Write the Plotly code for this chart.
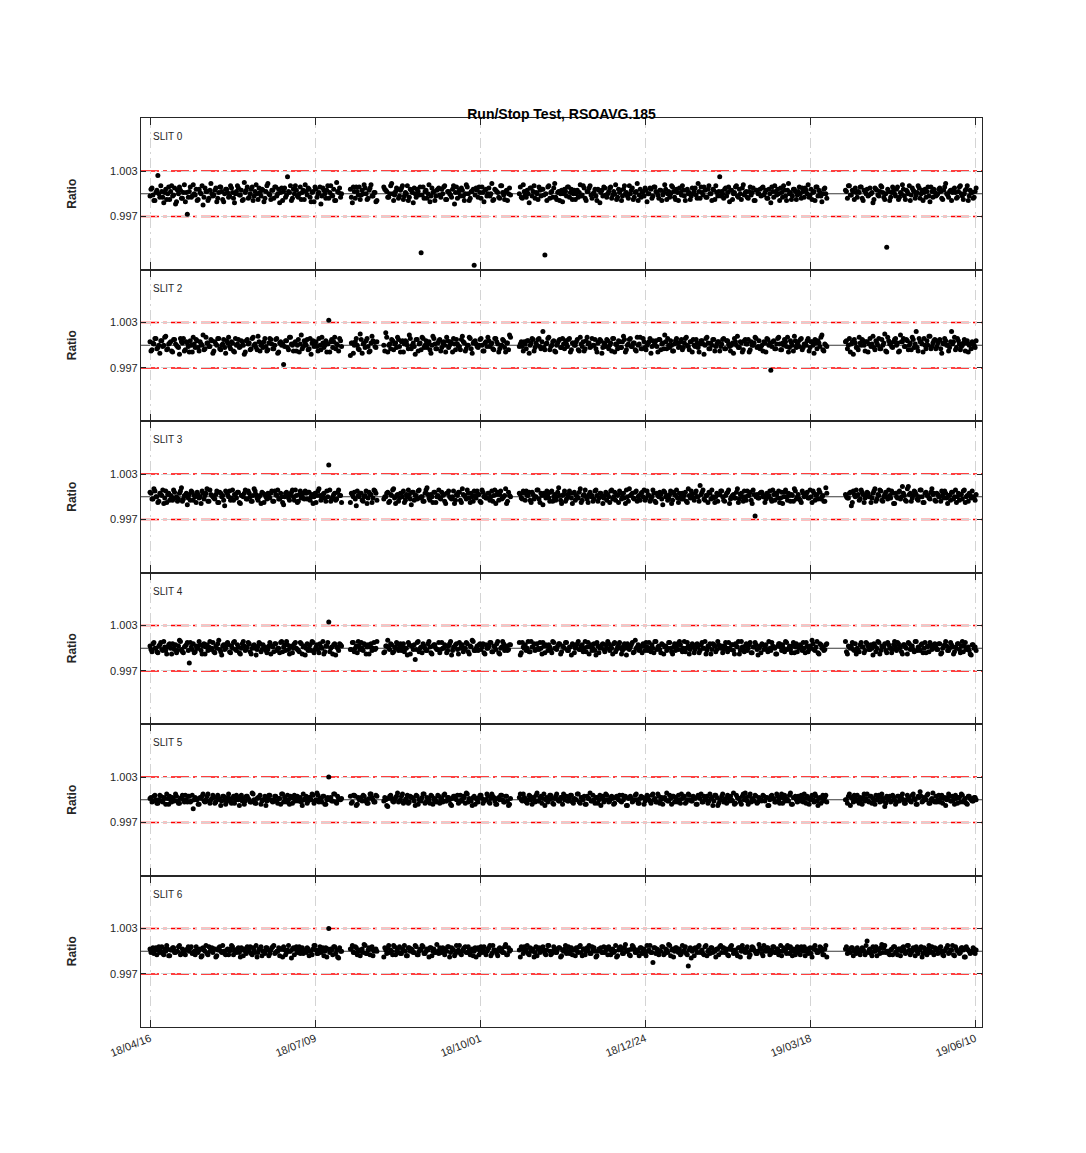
import pandas as pd
import plotly.graph_objects as go
from plotly.subplots import make_subplots

# ---------------- data ----------------
START_DATE = "2018-04-16"
END_DATE = "2019-06-10"
# days without measurements (inclusive ranges)
GAPS = [("2018-07-23", "2018-07-26"), ("2018-08-10", "2018-08-12"),
        ("2018-10-17", "2018-10-20"), ("2019-03-27", "2019-04-04")]

TICK_DATES = ["2018-04-16", "2018-07-09", "2018-10-01", "2018-12-24", "2019-03-18", "2019-06-10"]
TICK_LABELS = ["18/04/16", "18/07/09", "18/10/01", "18/12/24", "19/03/18", "19/06/10"]
Y_TICKS = [0.997, 1.003]
Y_TICK_LABELS = ["0.997", "1.003"]
SLIT_NAMES = ["SLIT 0", "SLIT 2", "SLIT 3", "SLIT 4", "SLIT 5", "SLIT 6"]

UNIT = 0.00015  # deviations below are ratio-1 in units of 0.00015

# first measurement of each day
slit0_a = [
    -2, 5, -6, 1, 16, -3, 2, -8, 4, 0, -5, 7, -1, -9, 3, 6, -4, 1, -7, -18,
    2, -3, 8, -1, -6, 4, 0, -10, 5, 2, -4, 9, -2, 3, -7, 1, 6, -5, 0, 4,
    -3, 7, 1, -8, 2, 5, -1, -6, 10, 3, -4, 0, 6, -2, 8, -5, 1, 4, -7, 2,
    9, -1, 3, -4, 6, 0, -8, 5, 2, -3, 15, 1, -6, 4, 7, -2, 0, -5, 3, 8,
    -1, 4, -7, 2, 6, -3, 1, -9, 5, 0, 3, -4, 7, -2, -6, 10, 1, -3, 4, -8,
    2, 6, -1, -5, 3, 8, 0, -4, 5, -2, 1, -7, 6, 3, -3, 0, 9, -6, 2, 4,
    -2, 5, -5, 1, 7, -3, 3, -8, 0, 4, -1, -52, 6, 2, -4, 8, -2, 1, -6, 3,
    5, -3, 0, 7, -5, 2, -1, 4, -9, 6, 1, -2, 3, -6, 8, 0, -4, 2, -63, 5,
    -3, 1, 6, -7, 4, 0, -2, 9, -5, 3, 1, -4, 7, -1, 2, -6, 5, 0, -3, 8,
    -1, 3, -8, 5, 2, -4, 0, 6, -2, 4, -54, -6, 7, 1, -3, 9, -5, 2, 0, -7,
    4, -2, 6, 1, -5, 3, 0, -3, 8, -1, 5, -6, 2, 7, -4, 1, -2, 4, -8, 3,
    6, -1, 0, 5, -4, 2, 8, -3, 1, -6, 4, 0, -2, 7, 3, -5, 1, 9, -1, -3,
    2, 5, -7, 0, 4, -2, 6, 1, -4, 3, -1, 8, -5, 2, 0, 6, -3, 4, -6, 1,
    7, -2, 3, 0, -5, 5, 2, -1, 9, -4, 1, 6, -3, 4, 0, -6, 3, 7, -2, 15,
    2, -4, 5, 1, -7, 3, 0, 6, -2, 4, -5, 8, 1, -3, 2, -1, 5, -6, 3, 0,
    -2, 6, 1, -4, 4, -8, 2, 7, -1, 0, 5, -3, 3, -6, 9, 1, -2, 4, -5, 2,
    0, 5, -3, 3, 8, -1, -5, 2, 6, -2, 1, -7, 4, 0, 3, -4, 7, -1, 2, 5,
    -3, 1, 6, -6, 2, 4, -1, 0, -8, 5, 3, -2, 7, 1, -5, -47, 2, -3, 6, 0,
    4, -5, 1, 8, -2, 3, 0, -6, 5, 2, -1, 7, -4, 3, 1, -3, 6, -7, 2, 4,
    -2, 0, 5, -4, 3, 9, -1, 2, -6, 4, 1, -3, 6, 0, -5, 3, 7, -2, 1, -4,
    2,
]
slit2_a = [
    3, -4, 1, 6, -2, -7, 4, 0, 8, -3, 2, -5, 5, 1, -1, -8, 3, 6, -4, 2,
    -6, 0, 7, -2, 4, -5, 1, 9, -3, 2, -1, 5, -7, 3, 0, 6, -4, 1, -2, 4,
    7, -3, 2, -6, 0, 5, -1, 3, -8, 4, 1, -4, 6, 0, -2, 8, -5, 2, 3, -1,
    -4, 6, 1, -3, 5, -7, 2, 0, -17, 4, -2, 7, 1, -5, 3, 0, -6, 9, -1, 2,
    5, -3, -8, 4, 1, -1, 6, -4, 2, 0, -6, 22, 3, -2, 7, 1, -5, 4, -9, 2,
    0, 6, -3, 10, -7, 2, 4, -1, -5, 8, 3, -2, 0, 11, -6, 1, 5, -4, 2, 7,
    -1, 3, -6, 4, 0, 9, -3, 2, -8, 5, 1, -4, 6, 0, -2, 3, -7, 8, 1, -3,
    4, -5, 2, 0, 7, -2, 3, -6, 1, 5, -1, -4, 8, 2, -3, 0, 6, -7, 3, 1,
    -2, 5, 0, -5, 3, 7, -1, 2, -4, 6, 1, -3, 0, 4, -6, 2, 9, -1, 3, -5,
    1, 4, -7, 2, 5, -2, 0, 6, -3, 12, -4, 2, 7, -1, 3, -5, 0, 4, -2, 6,
    -3, 1, 5, -6, 2, 0, 3, -4, 7, -1, -5, 4, 1, -2, 6, 0, -3, 2, 5, -7,
    2, -1, 4, 0, -5, 6, 1, -3, 3, -2, 8, -6, 0, 5, -1, 2, -4, 7, 1, -3,
    6, -2, 0, 3, -7, 4, 1, -1, 5, -4, 2, 9, -3, 0, 4, -5, 1, 6, -2, 3,
    -4, 2, 7, -1, 3, -6, 0, 5, -2, 1, 4, -8, 6, 2, -3, 0, 5, -1, 3, -5,
    1, 6, -3, 4, -1, 0, -7, 3, 8, -2, 2, -4, 5, 1, -6, 3, 0, 7, -2, 4,
    -1, -5, 2, 6, 0, -22, 3, -3, 1, 7, -4, 2, 5, -1, -6, 4, 0, 8, -2, 3,
    5, -4, 1, 0, 6, -2, 3, -7, 2, 4, -1, 9, -5, 0, 3, -3, 6, 1, -8, 2,
    -2, 7, 0, 4, -5, 3, 1, -1, 8, -4, 2, 6, -3, 0, 10, -6, 4, 2, -2, 5,
    0, -6, 9, 3, -1, 5, -4, 2, 7, -2, 12, -5, 3, 1, 6, -3, 0, 8, -1, 4,
    -3, 2, 5, -7, 1, 4, 0, -2, 12, 3, -4, 6, 1, -1, 2, -5, 4, 0, -3, 1,
    -2,
]
slit3_a = [
    4, -2, 7, 0, -5, 3, 1, -6, 5, 2, -3, 0, 6, -1, -4, 3, 8, -2, 1, -7,
    2, 5, -3, 0, 4, -1, -6, 3, 1, 7, -4, 2, 0, -2, 5, -5, 3, 1, -8, 4,
    0, -3, 6, 2, -1, 4, -6, 1, 3, -2, 5, 0, -4, 7, 2, -3, 1, 4, -5, 0,
    3, -1, 5, -4, 2, 6, -2, 0, -7, 3, 1, -3, 4, 0, 6, -5, 2, -1, 3, 5,
    -2, 4, 0, -6, 3, 1, 7, -3, 2, -1, 5, 28, -4, 0, 3, -2, 6, 1, -5, 2,
    4, -8, 1, 3, -3, 0, 5, -1, 2, -5, 6, 3, -2, 0, 4, -4, 1, 7, -6, 2,
    -1, 3, 5, -3, 0, 2, -7, 4, 1, -2, 6, 0, -4, 3, 8, -1, 2, -5, 4, 0,
    6, -2, 1, -4, 3, 5, -1, 0, -6, 2, 4, -3, 7, 1, -2, 3, -5, 0, 5, -1,
    2, -4, 6, 0, -1, 3, -3, 5, 1, -6, 4, 2, -2, 0, 7, -4, 1, 3, -1, 5,
    -3, 1, 4, -5, 2, 0, 6, -2, 3, -7, 1, 5, -1, 4, -4, 2, 0, 8, -3, 1,
    5, -2, 0, 3, -6, 4, 1, -1, 7, -3, 2, 0, -5, 4, 1, -2, 6, -4, 3, 0,
    -1, 4, 2, -5, 6, 0, -3, 1, 5, -2, 3, -6, 0, 7, 2, -1, 4, -4, 1, 3,
    0, -3, 5, 1, -2, 6, -4, 3, 0, 2, -7, 4, 1, -1, 5, -3, 2, 6, -5, 0,
    3, 1, -4, 7, -1, 2, -3, 5, 0, 10, 4, -2, 1, -5, 3, 6, -1, 0, -4, 2,
    5, -3, 1, 4, -6, 0, 2, -1, 7, -2, 3, -4, 0, 5, 1, -3, 6, -17, 2, -1,
    4, 0, -5, 3, 1, -2, 6, -3, 2, 5, -1, -6, 4, 0, 3, -4, 1, 7, -2, 2,
    -3, 5, 0, 2, -1, 6, -5, 3, 1, -2, 4, 0, -4, 8, 2, -1, 3, -8, 5, 0,
    1, -3, 6, 2, -1, 4, 0, -5, 3, 7, -2, 1, 5, -4, 2, 0, 6, -1, 3, -6,
    0, 4, -2, 9, 1, -4, 9, 3, -1, 5, 2, -3, 6, 0, -5, 4, 1, -2, 7, 3,
    -4, 2, 0, 5, -1, 3, -6, 1, 4, -2, 6, 0, -3, 2, 5, -5, 1, 3, -1, 0,
    -3,
]
slit4_a = [
    2, -3, 5, 0, -4, 3, -1, 6, -2, 1, 4, -5, 0, 3, -2, 7, -1, -4, 2, 5,
    -13, 1, 4, -3, 0, 6, -2, 2, -5, 3, 1, -1, 5, -4, 0, 7, -3, 2, -1, 4,
    3, -4, 0, 6, -2, 1, -5, 4, 2, -1, 5, -3, 0, 3, -6, 2, 4, -1, 1, -2,
    -1, 5, 2, -3, 4, 0, -4, 6, 1, -2, 3, -5, 2, 0, 5, -1, -3, 4, 1, -6,
    4, 0, -2, 5, -1, 3, -4, 1, 6, -3, 2, 23, 0, -5, 4, 1, -2, 3, -1, 5,
    -3, 2, 6, -1, 0, 4, -5, 3, 1, -2, 5, 0, -4, 2, 7, -1, 3, -3, 0, 4,
    1, -2, 4, 0, -6, 3, 2, -1, -10, 5, -3, 1, 4, 0, -2, 6, -4, 2, 3, -1,
    5, -1, 0, 3, -4, 2, 6, -2, 1, 4, -5, 0, 3, -1, 5, -3, 2, 7, -2, 0,
    -2, 4, 1, -4, 3, 0, 5, -3, 2, -1, 6, -5, 1, 4, 0, -2, 3, 5, -4, 1,
    3, 0, -3, 6, 1, -2, 4, -1, 0, 5, -4, 2, 3, -2, 6, 0, -1, 4, -5, 2,
    0, 5, -2, 1, 4, -4, 2, 6, -1, 3, 0, -3, 5, 1, -2, 4, -6, 2, 0, 3,
    -1, 3, 6, -2, 0, 4, -3, 1, 5, -5, 2, 0, 4, -1, 3, -4, 7, 1, -2, 2,
    4, -2, 1, 5, -3, 0, 6, -1, 2, -4, 3, 1, -2, 5, 0, -5, 4, 2, -1, 3,
    -3, 6, 0, 2, -1, 4, -4, 3, 1, -2, 5, 0, -5, 2, 4, -1, 3, -3, 6, 1,
    2, -1, 5, -3, 0, 3, -2, 4, 1, -5, 6, 0, 2, -2, 3, -4, 1, 5, -1, 0,
    -4, 3, 1, -1, 6, -2, 2, 0, -5, 4, 1, 3, -3, 5, 0, -1, 2, -4, 4, 1,
    3, -2, 0, 5, -3, 2, 7, -1, 1, -4, 4, 0, -2, 3, 6, -5, 1, 2, -1, 4,
    0, -3, 5, 1, -2, 4, -1, 3, -6, 2, 0, 5, -2, 1, 4, -4, 3, 0, -1, 6,
    -2, 4, 1, -5, 3, 0, 5, -1, 2, -3, 6, 1, -2, 4, 0, -4, 2, 5, -1, 3,
    1, -1, 4, -4, 2, 6, -2, 0, 3, -5, 1, 4, -1, 2, -3, 5, 0, -2, -6, 3,
    1,
]
slit5_a = [
    1, -2, 3, 0, -3, 4, -1, 2, -4, 1, 3, -2, 0, 5, -1, -3, 2, 0, 4, -2,
    3, -1, -8, 2, 0, -4, 1, 5, -2, 3, -1, 0, 4, -3, 2, 1, -5, 3, 0, -1,
    5, -2, 1, -3, 4, 0, 2, -1, -4, 3, 1, -2, 6, 0, -3, 2, 4, -1, 0, -5,
    2, 4, -1, 0, 3, -3, 1, 5, -2, 0, 4, -4, 2, 1, -1, 3, 0, -2, 5, 1,
    -3, 2, 0, 4, -1, 6, -2, 1, 3, -4, 0, 20, 2, -1, 5, -3, 1, 0, 3, -2,
    4, -5, 2, 1, -1, 3, 0, -3, 5, 2, -2, 4, -1, 0, -6, 3, 1, -2, 2, 6,
    -1, 3, -3, 0, 4, -2, 2, 1, -5, 3, 0, -1, 5, -3, 2, 0, 4, -4, 1, -2,
    3, 0, -2, 5, -1, 2, -4, 1, 3, 0, -3, 4, -1, 2, 6, -2, 0, -5, 3, 1,
    -2, 4, 1, -1, 0, 3, -3, 5, 2, -4, 1, 0, 4, -2, 3, -1, -4, 2, 0, 5,
    1, -3, 4, 0, 2, -2, 6, -1, 3, 1, -5, 2, 0, 4, -3, 1, 5, -1, 2, -4,
    0, 3, -1, 4, -2, 1, 0, 5, -3, 2, 3, -4, 1, 6, -1, 0, 2, -3, 4, 1,
    -2, 5, 0, -1, 3, -4, 2, 1, 4, -2, 0, 3, -5, 2, 1, -1, 4, 0, -3, 3,
    2, -1, 4, 0, -3, 5, 1, -2, 3, 0, -4, 2, 6, -1, 1, 3, -2, 0, 4, -3,
    1, 3, -2, 5, 0, -1, 2, -4, 4, 1, -2, 3, 0, -3, 5, 2, -1, 4, -5, 0,
    3, -2, 1, 4, -1, 0, 6, -3, 2, 1, -4, 5, 6, -1, 3, -2, 0, 4, -3, 2,
    0, 4, -1, 2, -5, 3, 1, -2, 5, 0, 2, -3, 4, 1, -1, 6, -4, 2, 0, 3,
    -1, 2, 5, -3, 1, 0, 4, -2, 3, -5, 2, 1, -1, 4, 0, -3, 5, 2, -2, 1,
    4, -3, 0, 2, -1, 5, -2, 3, 1, -4, 0, 4, 2, -1, -6, 3, 1, -2, 4, 0,
    -2, 3, 1, 5, -3, 0, 2, -1, 4, 1, -4, 3, 7, -2, 2, 0, 5, -3, 1, -1,
    3, 0, -2, 4, 1, -5, 2, 3, -1, 0, 4, -3, 2, 5, -2, 1, -4, 3, 0, -1,
    2,
]
slit6_a = [
    2, 0, -2, 3, 1, -1, 4, -3, 0, 2, -4, 1, 3, -1, 0, 5, -2, 1, -3, 2,
    0, 4, -1, -3, 2, 1, -5, 3, 0, -2, 4, 1, -1, 2, -4, 3, 0, 5, -2, 1,
    -3, 2, 4, 0, -1, 3, -5, 1, 2, -2, 0, 4, -3, 1, 5, -1, 2, -4, 0, 3,
    1, -2, 3, 5, -1, 0, -4, 2, 4, -3, 1, 0, -6, 3, 2, -1, 4, 0, -2, 1,
    3, -4, 0, 2, 5, -2, 1, -1, 3, 0, -5, 20, 2, -3, 4, 1, -6, 0, 2, 5,
    -1, 3, 0, -4, 2, 6, -2, 1, -3, 4, 0, 2, -5, 1, 3, -1, 0, 5, -3, 2,
    4, -2, 1, 0, -4, 3, 2, -1, 5, -3, 0, 1, 4, -2, 2, -5, 3, 0, -1, 6,
    -2, 1, 3, -3, 0, 4, -1, 2, -4, 5, 1, -2, 0, 3, -1, 4, -3, 2, 0, -5,
    3, 0, -1, 4, -3, 2, 5, -2, 1, 0, -4, 3, 2, -1, 6, -3, 0, 1, 4, -2,
    0, 5, -3, 1, 2, -1, -4, 3, 0, 4, -2, 1, 5, -3, 0, 2, -1, 3, -5, 1,
    2, -2, 4, 0, -3, 1, 3, -1, 5, -4, 2, 0, 1, -2, 4, 3, -5, 0, 2, -1,
    4, 1, -3, 2, 0, -1, 5, -4, 3, 1, -2, 6, 0, -3, 2, 4, -1, 1, -4, 3,
    0, -2, 5, 1, -1, -10, 3, 2, -3, 0, 4, -2, 1, 6, -4, 2, 0, 3, -1, -3,
    5, 1, -2, -13, 3, 0, -4, 2, 4, -1, 1, -3, 5, 0, -2, 3, 1, -5, 2, 4,
    -1, 3, 0, -3, 2, 5, -2, 1, -4, 3, 0, 2, -1, 4, -5, 1, 3, 0, -2, 6,
    2, -4, 1, 3, 0, -2, 4, -1, 2, -3, 5, 0, 1, -2, 3, 4, -4, 0, 2, -1,
    -3, 1, 4, 0, -2, 3, -5, 2, 1, -1, 4, 0, -3, 5, 2, -2, 0, 3, -4, 1,
    3, -1, 0, 2, -3, 9, 1, -2, 4, 0, -4, 2, 3, -1, 5, 0, -2, 1, -3, 4,
    0, 2, -4, 3, 1, -1, 5, -3, 0, 2, 4, -2, 1, -5, 3, 0, 2, -1, 4, -3,
    1, -2, 3, 0, -4, 2, 5, -1, 1, -3, 4, 0, -2, 3, 1, -5, 2, 0, -1, 3,
    -2,
]

# second measurement of each day
slit0_b = [
    4, -1, -6, 3, 0, 7, -3, 1, -5, 6, 2, -2, 5, -7, 0, 3, -4, 8, 1, -3,
    6, -2, 0, 4, -5, 1, 7, -3, 2, -6, 3, 0, -1, 5, -4, 6, 2, -7, 4, 1,
    -2, 5, -4, 0, 7, -1, 3, -5, 1, 6, -3, 4, -6, 2, 0, 5, -2, 3, -4, 7,
    0, -5, 3, 6, -2, 4, 1, -6, 5, -1, 2, 7, -4, 0, 3, -3, 6, 1, -5, 2,
    5, -3, 1, -7, 4, 0, 6, -2, 3, -4, 7, 1, -1, 4, -6, 2, 5, 0, -3, 6,
    -4, 2, 6, -1, 0, 5, -5, 3, 8, -2, 1, -6, 4, 2, -3, 7, 0, -1, 5, -4,
    3, 7, -2, 0, -6, 4, 1, 5, -3, 2, 6, -1, -4, 3, 0, -7, 5, 2, -2, 4,
    -1, 4, 6, -5, 2, 0, -3, 7, 1, -4, 3, 5, -2, 0, 6, -6, 2, 4, -1, 3,
    6, -4, 1, 3, -2, 5, 0, -6, 4, 2, -3, 7, 1, -5, 3, 0, -1, 6, -4, 2,
    -3, 0, 5, -2, 7, 1, -5, 3, 4, -1, 0, 6, -4, 2, 5, -3, 1, -6, 3, 0,
    2, 6, -3, 4, 0, -5, 3, 1, -2, 7, -4, 2, 5, -1, 0, 4, -6, 3, 1, -2,
    5, -3, 2, 6, -1, 0, -5, 4, 3, -2, 7, 1, -4, 0, 5, -3, 2, -6, 4, 1,
    -2, 3, 0, 5, -4, 6, 2, -1, 3, -6, 1, 4, 0, -3, 7, 2, -5, 1, 5, -1,
    3, -6, 4, 1, -2, 0, 5, -4, 2, 6, -1, 3, -3, 7, 0, 4, -5, 1, 2, -2,
    0, 4, -2, 6, 3, -5, 1, 7, -3, 0, 5, -1, 2, -4, 6, 1, -6, 3, 0, 4,
    5, -1, 3, -4, 0, 6, -3, 2, 4, -6, 1, 7, -2, 3, 0, -5, 4, 2, -1, 6,
    -4, 2, 5, 0, -3, 4, 1, -6, 6, 3, -2, 0, 5, -4, 2, 7, -1, 3, -5, 1,
    2, 6, -4, 3, 0, -2, 5, 1, -5, 4, -1, 2, 6, -3, 0, 4, -6, 1, 3, -2,
    6, -3, 0, 4, -5, 2, 7, -1, 3, -4, 1, 5, 0, -6, 4, 2, -2, 6, -3, 1,
    -1, 4, 2, -5, 6, 0, -3, 3, 1, 5, -4, 2, 7, -2, 0, 4, -6, 3, 1, -3,
    5,
]
slit2_b = [
    -5, 2, 6, -3, 0, 4, -1, 7, -4, 1, 3, -6, 5, 0, -2, 6, 2, -5, 3, -1,
    4, -6, 1, 5, -2, 3, 0, -4, 7, 2, -1, 4, -5, 1, 6, -3, 0, 5, -7, 2,
    -1, 3, -5, 6, 1, -2, 4, 0, -6, 5, 2, -3, 7, 1, -4, 3, 0, -2, 6, -5,
    2, 5, -3, 0, 6, -6, 3, 1, -1, 4, -4, 7, 0, 2, -5, 5, 1, -3, 4, 0,
    -4, 6, 2, -1, 3, -5, 0, 7, -2, 4, 1, -6, 5, 3, -3, 0, 6, -1, 2, -7,
    3, 0, -4, 5, 1, -2, 6, -6, 2, 4, -1, 3, -5, 7, 0, -3, 4, 1, -2, 5,
    -6, 4, 1, 3, -3, 6, 0, -1, 5, -5, 2, 7, -2, 4, 1, -4, 0, 6, -3, 2,
    5, -2, 3, -6, 4, 0, 2, 6, -4, 1, -1, 5, 3, -5, 0, 7, -3, 2, 4, -1,
    0, 6, -5, 2, -1, 4, 1, -3, 6, 3, -6, 0, 5, -2, 2, -4, 7, 1, -1, 3,
    -3, 4, 0, 6, -5, 2, 5, -1, 3, -2, 1, 6, -4, 0, 4, -6, 2, 5, -2, 1,
    4, -1, 6, -4, 2, 0, 5, -5, 1, 3, -3, 7, 2, -1, 0, 5, -6, 3, 4, -2,
    1, 5, -3, 2, 6, -6, 0, 4, -2, 3, 5, -4, 1, 6, -1, 2, -5, 0, 7, -3,
    3, -4, 2, 6, -1, 0, 4, -6, 5, 1, -3, 3, 6, -2, 0, -5, 4, 2, -1, 5,
    -2, 6, 0, -4, 3, 5, -1, 2, -6, 4, 1, 0, 7, -3, 2, 5, -5, 1, 3, -1,
    5, -3, 4, 1, -5, 2, 6, 0, -2, 3, -6, 4, 1, 5, -4, 0, 2, 6, -1, -3,
    0, 3, -6, 5, 2, -1, 4, -3, 6, 1, -4, 0, 3, 7, -2, 2, -5, 4, 1, -1,
    6, -2, 1, 4, -5, 3, 0, 5, -3, 2, 7, -4, 1, -1, 4, 0, -6, 3, 5, -2,
    -4, 2, 5, 0, 3, -6, 6, 1, -2, 4, 0, -3, 5, 2, -5, 7, 1, -1, 3, 6,
    2, -5, 3, 6, -1, 4, 0, -4, 5, 1, -2, 6, 3, -6, 0, 4, 8, -3, 2, 5,
    -1, 4, -3, 2, 6, 0, -5, 3, 1, 7, -2, 4, -4, 0, 5, 2, -6, 1, 3, 0,
    4,
]
slit3_b = [
    3, -2, 5, 0, -4, 2, 6, -1, -5, 3, 1, -3, 4, 0, -2, 5, -4, 1, 3, -1,
    -3, 4, 1, -5, 2, 0, 5, -2, 3, -4, 6, 1, -1, 2, -5, 4, 0, -3, 5, 2,
    5, -1, -3, 2, 4, -5, 1, 0, 6, -2, 3, -4, 1, 5, -1, 0, -6, 3, 2, -2,
    0, 3, -4, 5, 1, -2, 3, -5, 0, 4, -1, 2, 6, -3, 1, -4, 5, 0, -2, 3,
    4, -3, 2, 0, -5, 5, 1, -1, 3, -4, 0, 6, -2, 2, -3, 4, 1, -5, 3, 0,
    -2, 5, 0, 3, -4, 1, -6, 4, 2, -1, 5, -3, 0, 3, -5, 2, 6, -1, 1, -4,
    3, 0, -5, 2, 6, -2, 4, -3, 1, 5, -1, 0, -4, 6, 2, -3, 0, 4, -5, 1,
    -1, 4, 2, -6, 3, 0, -2, 5, -3, 1, 4, -5, 2, 0, 6, -1, 3, -4, 1, 5,
    2, -5, 4, 1, -1, 3, 0, -4, 6, 2, -3, 5, -1, 1, -6, 4, 0, 2, -2, 3,
    5, 1, -3, 4, -2, 0, 6, -5, 1, 3, -1, 2, -4, 5, 0, -3, 4, 1, -6, 2,
    -4, 2, 5, -1, 3, -3, 0, 4, -5, 1, 6, -2, 2, 0, -4, 5, 1, -1, 3, -6,
    1, -3, 0, 5, -2, 4, 2, -5, 3, 0, -1, 6, -4, 1, 3, -2, 5, 0, -3, 4,
    6, -1, 2, -4, 0, 3, -5, 1, 4, -2, 5, 0, -3, 2, -6, 4, 1, -1, 3, -2,
    -2, 4, -5, 1, 5, -1, 3, 0, -4, 2, 6, -3, 1, 4, -2, 0, -5, 3, 2, 5,
    0, -4, 3, 6, -2, 1, -1, 4, -5, 2, 0, 5, -3, 1, 4, -6, 2, 0, -1, 3,
    4, 1, -2, 0, 5, -4, 2, 3, -1, -5, 4, 0, 6, -3, 1, 2, -4, 5, 0, -2,
    -5, 3, 1, 4, -1, 0, 5, -3, 2, 6, -2, 1, -4, 3, 0, -1, 4, -5, 2, 6,
    2, -2, 4, -5, 1, 3, 0, -1, 5, -4, 2, 6, -3, 0, 4, -2, 1, 5, -6, 3,
    -1, 5, 0, 3, -3, 7, 2, -4, 1, 4, -2, 0, 6, -5, 3, 1, -1, 4, 2, -3,
    3, 0, -4, 2, 5, -1, 1, -3, 4, 0, -5, 3, 2, -2, 6, 0, -4, 1, 5, -1,
    2,
]
slit4_b = [
    -1, 4, 0, -3, 2, 5, -2, 1, -5, 3, 0, 4, -1, -4, 2, 6, -3, 1, 3, -2,
    5, -1, -4, 2, 0, 3, -5, 4, 1, -2, 6, 0, -3, 2, 4, -1, -6, 3, 0, 5,
    -3, 2, 5, -1, 3, -4, 0, 6, -2, 1, 4, -5, 2, 0, -1, 5, -3, 3, 1, -4,
    2, -5, 1, 4, -2, 0, 5, -3, 3, 6, -1, 1, -4, 4, 0, -2, 5, -5, 2, 0,
    -2, 3, 6, -4, 1, -1, 4, 0, -5, 2, 5, -3, 1, 3, -6, 0, 4, 2, -1, 5,
    0, -4, 2, 5, -2, 3, 1, -5, 4, 0, -1, 6, -3, 2, 0, 4, -4, 1, 5, -2,
    4, 1, -3, 0, 5, -5, 2, 3, -1, 6, 0, -4, 2, -2, 4, 1, -5, 3, 0, -1,
    -4, 5, 0, 2, -2, 4, -6, 1, 3, -1, 5, 2, -3, 0, 4, -5, 1, 6, -2, 2,
    3, -1, 4, -5, 0, 2, 5, -3, 1, 4, -4, 0, 6, -2, 2, -1, 3, -6, 5, 0,
    -2, 6, -3, 1, 4, -1, 0, 5, -5, 2, 3, -2, 1, -4, 5, 0, 2, 4, -3, 1,
    5, -2, 1, -6, 3, 0, 4, -1, 2, -3, 6, 1, -5, 3, 0, -2, 5, -4, 1, 4,
    -3, 0, 4, 2, -5, 5, -1, 3, 0, -2, 4, -6, 2, 1, 5, -3, 0, 3, -1, -4,
    2, 5, -2, 0, 3, -4, 6, 1, -1, 4, -5, 2, 0, 5, -3, 1, -2, 4, 6, -1,
    0, -3, 5, -5, 2, 1, -1, 4, -4, 3, 0, 6, -2, 1, -5, 4, 2, -1, 3, 0,
    -4, 2, 0, 5, -1, 3, -5, 2, 6, -2, 1, -3, 4, 0, 5, -4, 1, 3, -6, 2,
    4, -1, 3, -3, 0, 5, 1, -5, 2, 4, -2, 0, 6, -1, 2, -4, 5, 1, -3, 0,
    1, 5, -4, 2, -1, 0, 4, -2, 6, -5, 3, 1, -1, 4, -3, 2, 0, 5, -2, -5,
    -2, 3, 1, -4, 5, 2, -1, 0, 4, -3, 6, -5, 2, 1, -2, 5, 0, -4, 3, 1,
    5, 0, -3, 3, 1, -5, 4, 2, -1, 6, -2, 0, 3, -4, 5, 1, -3, 2, 0, 4,
    -1, 4, -5, 0, 3, 2, -2, 5, 1, -3, 0, 4, -4, 6, 2, -1, 1, -5, 3, 0,
    -2,
]
slit5_b = [
    2, -1, 4, -3, 0, 3, -2, 1, 5, -4, 0, 2, -1, 3, -3, 1, 4, -2, 0, 3,
    -2, 4, 0, 1, -4, 2, 3, -1, 0, 5, -3, 1, 2, -2, 4, 0, -1, 3, -4, 2,
    1, -3, 3, 0, 2, -5, 4, 1, -1, 3, 0, -2, 5, -3, 1, 2, -4, 0, 3, -1,
    4, 0, -2, 3, -1, 1, -4, 5, 2, -2, 0, 3, -3, 4, 1, -1, 2, -5, 0, 3,
    -1, 2, 5, -3, 0, 4, 1, -2, 3, -4, 2, 0, -1, 5, -2, 3, 0, 1, -3, 4,
    3, -4, 0, 2, 4, -1, -3, 1, 5, 0, -2, 3, 2, -5, 1, 4, -1, 0, 3, -2,
    0, 5, -2, 1, -3, 3, 2, -1, 4, -4, 0, 2, 5, -2, 1, -3, 3, 0, -1, 4,
    -3, 1, 4, -1, 2, 0, -5, 3, 1, 4, -2, 0, 3, -3, 5, 1, -1, 2, -4, 0,
    2, 4, -3, 0, 5, -2, 1, 3, -1, -4, 2, 4, 0, -2, 3, -5, 1, 5, -1, 2,
    -2, 0, 3, -4, 1, 4, -1, 2, -3, 5, 0, -2, 4, 1, -4, 3, 0, -1, 2, 5,
    3, -1, 1, 4, -3, 0, 5, -2, 2, 0, -4, 3, 1, -1, 4, -3, 2, 0, -5, 3,
    0, 4, -2, 2, 1, -3, 3, 0, -1, 4, 2, -5, 1, 3, -2, 0, 5, -3, 1, 2,
    -4, 1, 3, -1, 4, 0, -2, 5, -3, 2, 1, 0, -1, 4, -4, 3, 2, -2, 0, 5,
    2, -3, 0, 4, -1, 3, 1, -4, 2, 5, -2, 0, 3, -1, 1, -5, 4, 2, -3, 0,
    5, 0, -3, 2, 3, -1, -4, 4, 1, -2, 3, 0, 2, -4, 5, 1, -1, 3, -2, 0,
    -1, 3, 2, -5, 0, 4, 1, -2, 3, -3, 5, 1, -1, 0, 4, -4, 2, 3, -2, 1,
    4, -2, 1, 3, -4, 2, 0, 5, -1, 1, -3, 4, 2, -2, 0, 3, -5, 1, 4, -1,
    0, 2, -4, 5, 1, -1, 3, -3, 0, 4, 2, -2, 5, 1, -3, 0, 3, -1, 2, -4,
    3, -1, 2, 0, -3, 4, 1, -2, 5, 0, -4, 2, 3, -1, 1, 4, -3, 0, 6, -2,
    -2, 4, 1, -3, 2, 0, 5, -1, 3, -4, 1, 2, -2, 4, 0, -3, 3, 1, -1, 2,
    0,
]
slit6_b = [
    -1, 3, 1, -3, 4, 0, -2, 2, 5, -4, 1, 3, -1, 0, 4, -3, 2, -2, 1, 4,
    3, -2, 0, 4, -1, 2, -4, 1, 5, -3, 0, 3, 2, -5, 1, 4, -1, 0, -3, 2,
    0, 5, -3, 1, 2, -1, 3, -4, 0, 4, 1, -2, 3, -1, -5, 2, 4, 0, -2, 3,
    -4, 1, 4, -2, 0, 3, 2, -5, 1, -1, 5, 0, 2, -3, 4, 1, -2, 3, 0, -1,
    2, 0, -3, 5, 1, -2, 4, 0, -4, 3, 2, -1, 1, 4, -2, -5, 3, 0, 2, -1,
    4, -3, 1, 0, -1, 5, -2, 3, 2, -4, 1, 0, 3, -2, 5, 1, -3, 4, 0, -1,
    -2, 2, 5, -4, 3, 0, 1, -1, 4, -3, 2, 5, -2, 0, 1, 3, -4, 2, -1, 0,
    3, -1, 0, 2, 4, -5, 3, 1, -2, 0, 5, -3, 2, 4, -1, 1, 0, -4, 3, 2,
    -3, 4, 2, -1, 0, 3, -4, 5, 1, -2, 2, 0, -1, 4, -3, 3, 1, -5, 2, 4,
    1, -2, 3, 0, -5, 4, 2, -1, 3, 1, -3, 5, 0, -2, 4, -1, 2, 3, -4, 0,
    5, 0, -2, 3, 1, -4, 0, 4, -1, 2, -3, 3, 5, -2, 1, 0, -4, 2, 3, -1,
    -1, 3, 4, -3, 2, 0, -5, 1, 4, -2, 3, 0, 1, -4, 5, 2, -1, 0, 3, -2,
    2, -4, 0, 5, -1, 3, -2, 1, 0, 4, -3, 2, -1, 5, 1, -5, 3, 0, 2, -2,
    0, 4, -3, 1, -6, 2, 3, -1, 5, 0, -2, 4, -4, 1, 3, -1, 0, 2, -3, 5,
    3, -1, 2, -4, 4, 1, 0, -2, 3, -5, 5, 0, 2, -1, -3, 4, 1, -2, 0, 3,
    -2, 5, 0, 3, -3, 1, 4, -1, 2, 0, -4, 3, 1, 5, -2, 0, 2, -3, 4, 1,
    4, 0, -4, 2, 1, -2, 3, 5, -1, 0, 3, -3, 2, -5, 4, 1, -1, 3, 0, -2,
    1, -3, 3, 0, 5, -1, 2, -4, 0, 4, 1, -2, 6, 3, -1, 0, -3, 2, 4, -1,
    -3, 2, 0, 4, -2, 5, 1, -1, 3, -4, 0, 2, 4, -2, 1, -3, 5, 0, -1, 3,
    2, -1, 4, -3, 0, 3, -2, 1, 5, -4, 2, 0, -1, 3, -5, 4, 1, -2, 0, 2,
    1,
]
SLITS_A = [slit0_a, slit2_a, slit3_a, slit4_a, slit5_a, slit6_a]
SLITS_B = [slit0_b, slit2_b, slit3_b, slit4_b, slit5_b, slit6_b]

# ---------------- build dates ----------------
all_days = pd.date_range(START_DATE, END_DATE, freq="D")
keep = pd.Series(True, index=all_days)
for g0, g1 in GAPS:
    keep[(all_days >= g0) & (all_days <= g1)] = False
dates_a = list(all_days[keep.values])
dates_b = [d + pd.Timedelta(hours=12) for d in dates_a]

# ---------------- figure ----------------
W, H = 1086, 1153
ML, MR, MT, MB = 141, 104, 118, 126
PW = W - ML - MR

FONT = "Liberation Sans, Arial, Helvetica, sans-serif"
AX = "#262626"
GRID = "#d4d4d4"
GRID_DASH = "10px,4px,2px,4px"
RED_DASH = "18px,4px,4px,4px"

fig = make_subplots(rows=6, cols=1, shared_xaxes=True, vertical_spacing=0)

for i in range(6):
    r = i + 1
    va, vb = SLITS_A[i], SLITS_B[i]
    na = min(len(dates_a), len(va))
    nb = min(len(dates_b), len(vb))
    xs = dates_a[:na] + dates_b[:nb]
    ys = [1 + v * UNIT for v in va[:na]] + [1 + v * UNIT for v in vb[:nb]]
    fig.add_trace(go.Scatter(x=xs, y=ys, mode="markers",
                             marker=dict(color="black", size=5, line=dict(width=0)),
                             showlegend=False, hoverinfo="x+y"), row=r, col=1)
    fig.add_hline(y=1.0, line=dict(color="#3a3a3a", width=1), layer="below", row=r, col=1)
    for yl in Y_TICKS:
        fig.add_hline(y=yl, line=dict(color="red", width=1.5, dash=RED_DASH),
                      layer="below", row=r, col=1)
    yref = "y domain" if r == 1 else f"y{r} domain"
    fig.add_annotation(text=SLIT_NAMES[i], xref="paper", x=(151 - ML) / PW,
                       yref=yref, y=0.875, xanchor="left", yanchor="middle",
                       showarrow=False, font=dict(size=10, color=AX, family=FONT))
    fig.add_annotation(text="<b>Ratio</b>", xref="paper", x=-(ML - 72) / PW,
                       yref=yref, y=0.5, xanchor="center", yanchor="middle",
                       textangle=-90, showarrow=False,
                       font=dict(size=12, color=AX, family=FONT))

fig.update_xaxes(range=["2018-04-11 10:00", "2019-06-13 12:00"],
                 tickvals=TICK_DATES, ticktext=TICK_LABELS,
                 ticks="inside", ticklen=7, tickwidth=1.2, tickcolor=AX,
                 showline=True, linecolor=AX, linewidth=1.3, mirror="ticks",
                 showgrid=True, gridcolor=GRID, griddash=GRID_DASH, gridwidth=1,
                 zeroline=False, tickangle=-22,
                 tickfont=dict(size=11, color=AX, family=FONT))
fig.update_yaxes(range=[0.99, 1.01], tickvals=Y_TICKS, ticktext=Y_TICK_LABELS,
                 ticks="inside", ticklen=5, tickwidth=1.2, tickcolor=AX,
                 showline=True, linecolor=AX, linewidth=1.3, mirror="ticks",
                 showgrid=True, gridcolor=GRID, griddash=GRID_DASH, gridwidth=1,
                 zeroline=False, tickfont=dict(size=11, color=AX, family=FONT))

fig.update_layout(
    width=W, height=H, autosize=False,
    margin=dict(l=ML, r=MR, t=MT, b=MB),
    paper_bgcolor="white", plot_bgcolor="white",
    title=dict(text="<b>Run/Stop Test, RSOAVG.185</b>", xref="paper", x=0.5,
               xanchor="center", yref="container", y=1 - 114 / H, yanchor="middle",
               font=dict(size=14, color="black", family=FONT)),
    font=dict(family=FONT),
)

fig.write_html("out.html")
